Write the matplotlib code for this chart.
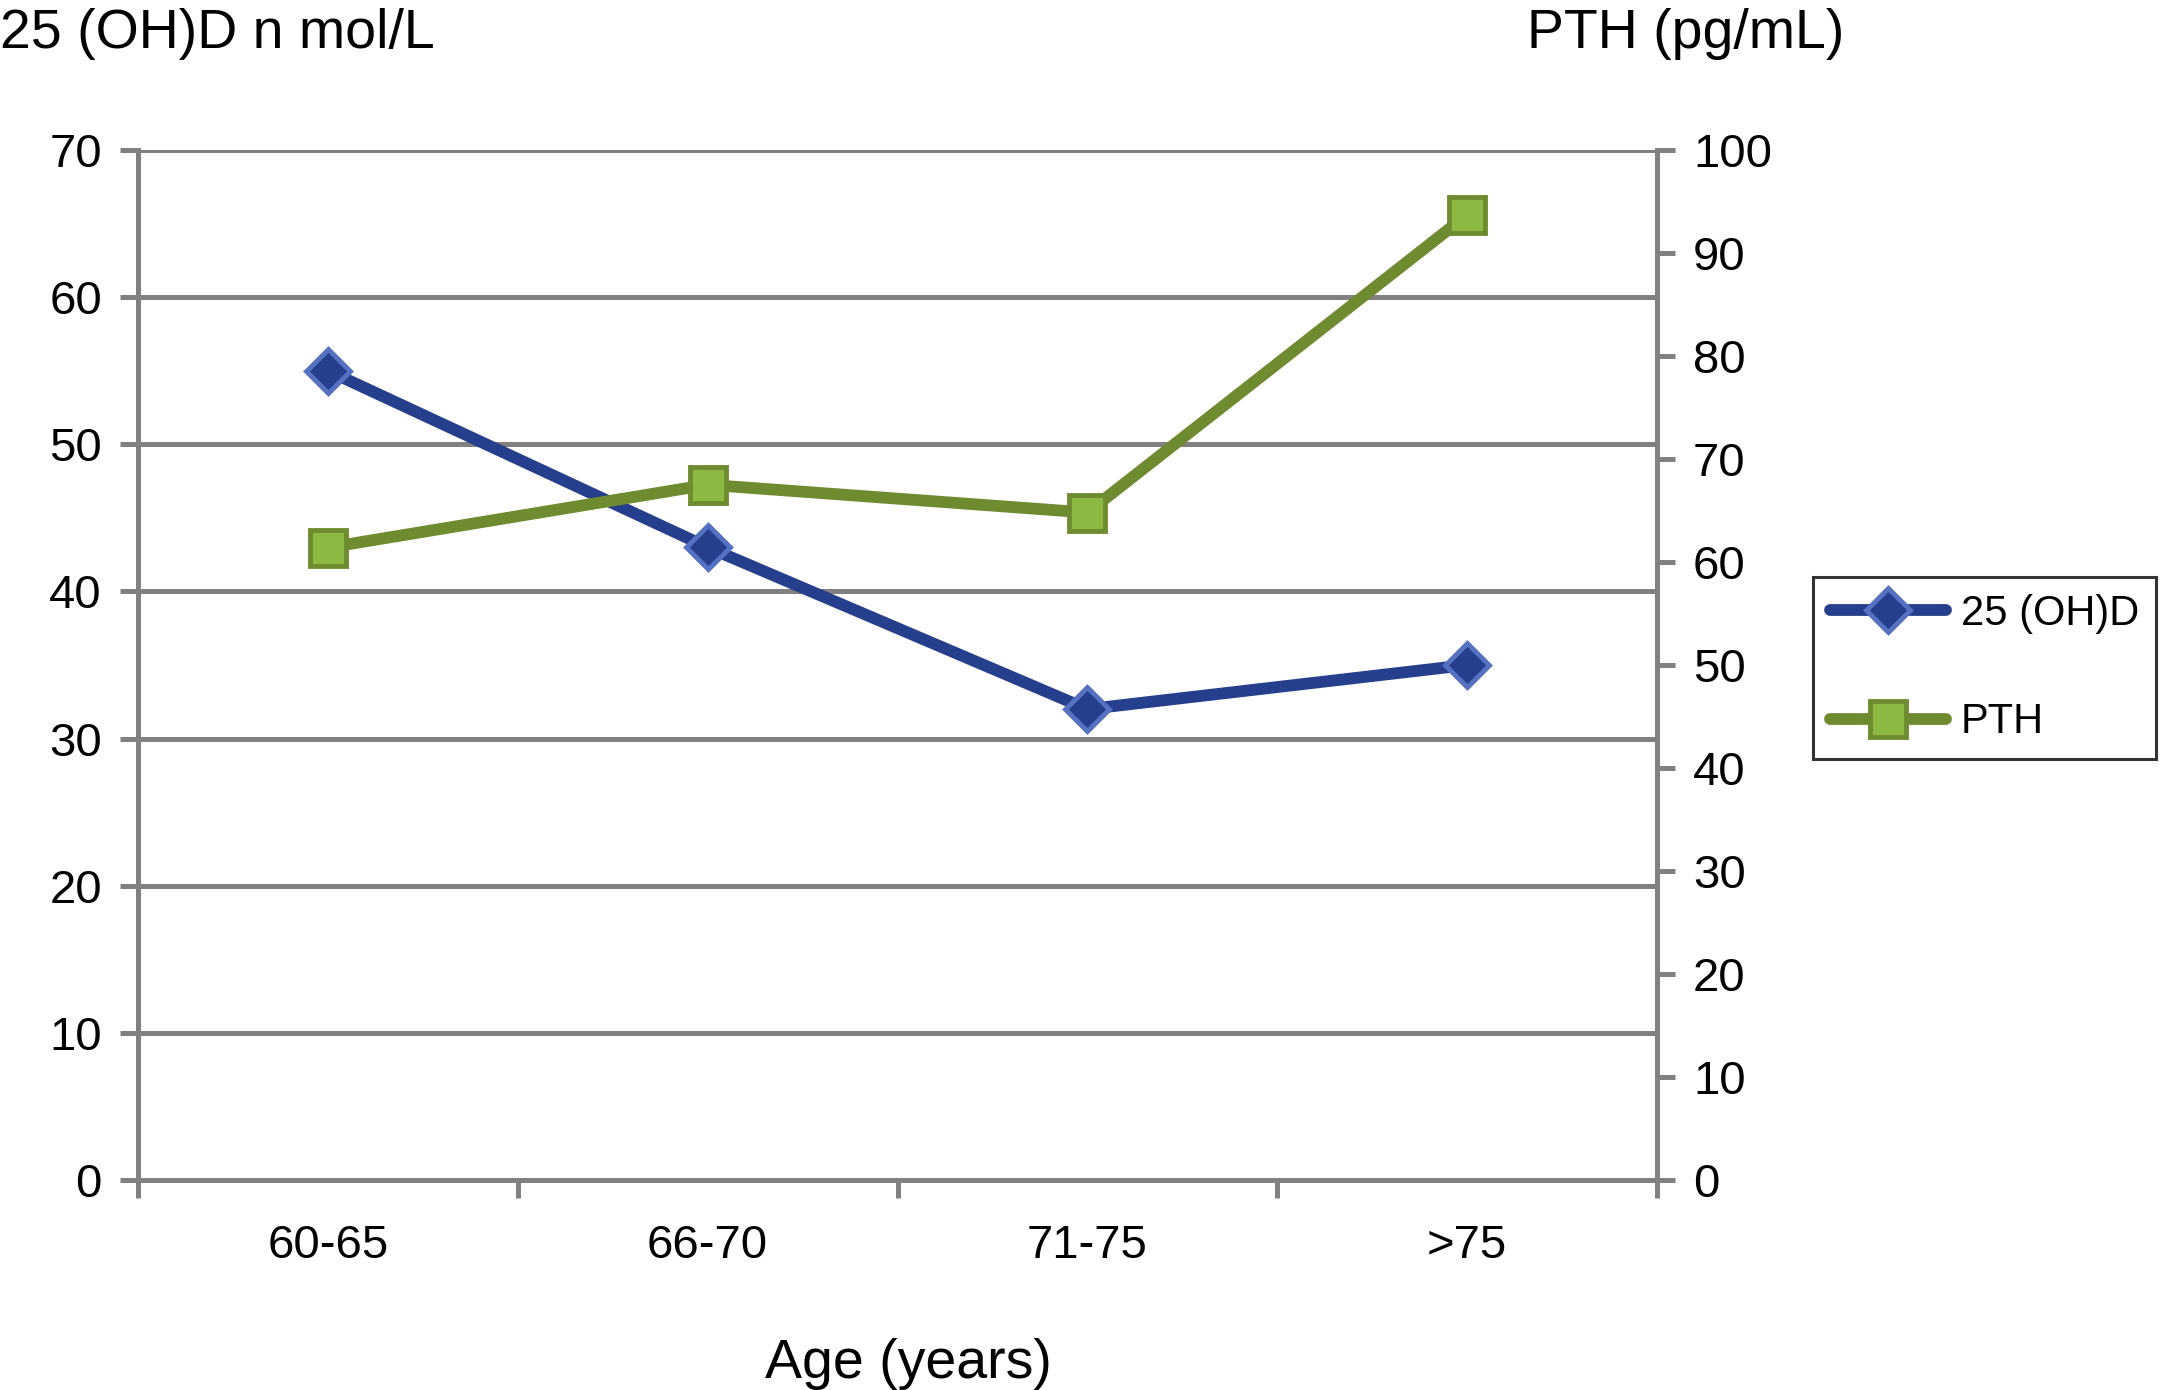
import matplotlib
matplotlib.use("Agg")
import matplotlib.pyplot as plt

# Data
age_groups = ["60-65", "66-70", "71-75", ">75"]
vit_d = [55, 43, 32, 35]          # 25 (OH)D, nmol/L, left axis
pth = [61.4, 67.5, 64.8, 93.7]    # PTH, pg/mL, right axis
left_ticks = [0, 10, 20, 30, 40, 50, 60, 70]
right_ticks = [0, 10, 20, 30, 40, 50, 60, 70, 80, 90, 100]

plt.rcParams['font.family'] = ['Liberation Sans', 'DejaVu Sans']

grey = "#808080"
blue_line = "#253F8C"
blue_edge = "#5572C2"
green_line = "#6F8B30"
green_face = "#8DB843"

W, H = 2162, 1390
fig = plt.figure(figsize=(W / 100, H / 100), dpi=100)
ax = fig.add_axes([138 / W, 1 - 1180 / H, (1657 - 138) / W, (1180 - 150) / H])
ax2 = ax.twinx()

x = list(range(len(age_groups)))

ax.plot(x, vit_d, color=blue_line, lw=8.5, marker="D", ms=22,
        mfc=blue_line, mec=blue_edge, mew=3.5, label="25 (OH)D",
        solid_capstyle="round", zorder=3)
ax2.plot(x, pth, color=green_line, lw=8.5, marker="s", ms=26,
         mfc=green_face, mec=green_line, mew=3.5, label="PTH",
         solid_capstyle="round", zorder=3)

ax.set_xlim(-0.5, len(age_groups) - 0.5)
ax.set_ylim(0, 70)
ax2.set_ylim(0, 100)

ax.set_yticks(left_ticks)
ax2.set_yticks(right_ticks)
ax.yaxis.grid(True, color=grey, lw=3.6)
ax.set_axisbelow(True)

# boundary ticks without labels, labels at category centres
ax.set_xticks([i - 0.5 for i in range(len(age_groups) + 1)])
ax.set_xticklabels([])
ax.set_xticks(x, minor=True)
ax.set_xticklabels(age_groups, minor=True)
ax.tick_params(axis="x", which="minor", length=0, pad=32, labelsize=34)
ax.tick_params(axis="x", which="major", length=13, width=3.6, color=grey)
ax.tick_params(axis="y", length=13, width=3.6, color=grey, pad=13, labelsize=34)
ax2.tick_params(axis="y", length=13, width=3.6, color=grey, pad=13, labelsize=34)

for a in (ax, ax2):
    a.spines["top"].set_visible(False)
    for s in ("left", "right", "bottom"):
        a.spines[s].set_color(grey)
        a.spines[s].set_linewidth(3.6)

fig.text(0.0, 1 - 48 / H, "25 (OH)D n mol/L", fontsize=40, va="baseline", ha="left")
fig.text(1527 / W, 1 - 48 / H, "PTH (pg/mL)", fontsize=40, va="baseline", ha="left")
fig.text(908 / W, 1 - 1378 / H, "Age (years)", fontsize=40, va="baseline", ha="center")

h1, l1 = ax.get_legend_handles_labels()
h2, l2 = ax2.get_legend_handles_labels()
leg = fig.legend(h1 + h2, l1 + l2, loc="center left",
                 bbox_to_anchor=(1813 / W, 1 - 668 / H), fontsize=30,
                 frameon=True, fancybox=False, edgecolor="black",
                 handlelength=2.8, handletextpad=0.35, labelspacing=1.65,
                 borderpad=0.4, borderaxespad=0)
leg.get_frame().set_linewidth(2.2)

fig.savefig("out.png", dpi=100, facecolor="white")
